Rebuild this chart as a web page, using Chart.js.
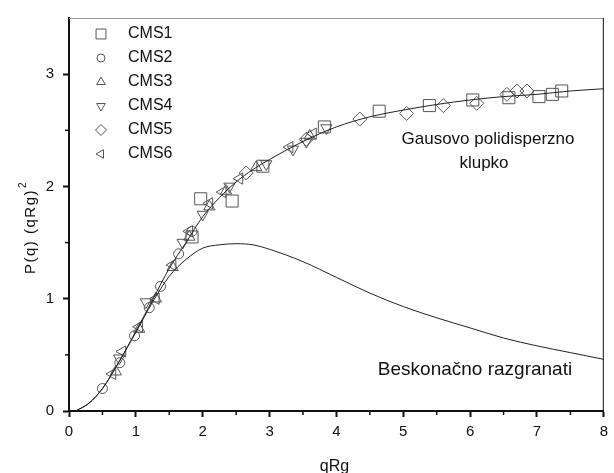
<!DOCTYPE html>
<html>
<head>
<meta charset="utf-8">
<script src="https://cdn.jsdelivr.net/npm/chart.js@4.4.1/dist/chart.umd.min.js"></script>
<style>
  html, body { margin: 0; padding: 0; background: #fff; }
  #wrap { width: 614px; height: 473px; }
</style>
</head>
<body>
<div id="wrap"><canvas id="chart" width="614" height="473"></canvas></div>
<script>
// model curves
const curveX      = [0.1, 0.3, 0.5, 0.75, 1, 1.25, 1.5, 1.75, 2, 2.25, 2.5, 2.75, 3, 3.5, 4, 4.5, 5, 5.5, 6, 6.5, 7, 7.5, 8];
const gaussCurve  = [0, 0.07, 0.2, 0.44, 0.71, 0.99, 1.27, 1.5, 1.73, 1.9, 2.04, 2.15, 2.24, 2.4, 2.53, 2.62, 2.68, 2.73, 2.77, 2.8, 2.82, 2.85, 2.87];
const branchCurve = [0, 0.07, 0.2, 0.44, 0.7, 0.97, 1.2, 1.35, 1.45, 1.48, 1.49, 1.48, 1.44, 1.33, 1.19, 1.05, 0.93, 0.83, 0.74, 0.65, 0.58, 0.52, 0.46];

// measured samples
const cms1X = [1.97, 2.44, 1.84, 2.9, 3.82, 4.64, 5.39, 6.04, 6.58, 7.03, 7.23, 7.37];
const cms1Y = [1.89, 1.87, 1.55, 2.18, 2.53, 2.67, 2.72, 2.77, 2.79, 2.80, 2.82, 2.85];
const cms2X = [0.5, 0.76, 0.98, 1.2, 1.37, 1.64, 1.84];
const cms2Y = [0.2, 0.43, 0.67, 0.92, 1.11, 1.4, 1.6];
const cms3X = [0.7, 1.05, 1.3, 1.55, 1.8, 2.1, 2.35, 2.8, 3.6];
const cms3Y = [0.35, 0.73, 1.0, 1.28, 1.55, 1.82, 1.96, 2.17, 2.45];
const cms4X = [0.75, 1.15, 1.7, 2.0, 2.4, 2.95, 3.35, 3.55, 3.85];
const cms4Y = [0.47, 0.97, 1.5, 1.75, 2.0, 2.2, 2.33, 2.4, 2.52];
const cms5X = [2.65, 3.55, 4.35, 5.05, 5.6, 6.1, 6.55, 6.7, 6.85];
const cms5Y = [2.12, 2.42, 2.6, 2.65, 2.72, 2.74, 2.82, 2.85, 2.85];
const cms6X = [0.65, 0.8, 1.05, 1.3, 1.55, 1.8, 2.1, 2.3, 2.55, 3.3, 3.65];
const cms6Y = [0.33, 0.53, 0.75, 1.0, 1.3, 1.6, 1.85, 1.95, 2.07, 2.35, 2.47];

const xTicks = [0, 1, 2, 3, 4, 5, 6, 7, 8];
const yTicks = [0, 1, 2, 3];

const toPts = (xs, ys) => xs.map((x, i) => ({ x: x, y: ys[i] }));
const FONT = '"Liberation Sans", Arial, sans-serif';

const markerColor = '#555';
const series = [
  { label: 'CMS1', x: cms1X, y: cms1Y, style: 'rect', rot: 0, r: 8.5, lr: 7 },
  { label: 'CMS2', x: cms2X, y: cms2Y, style: 'circle', rot: 0, r: 5, lr: 4 },
  { label: 'CMS3', x: cms3X, y: cms3Y, style: 'triangle', rot: 0, r: 6.5, lr: 5 },
  { label: 'CMS4', x: cms4X, y: cms4Y, style: 'triangle', rot: 180, r: 6.5, lr: 5 },
  { label: 'CMS5', x: cms5X, y: cms5Y, style: 'rectRot', rot: 0, r: 7, lr: 5.5 },
  { label: 'CMS6', x: cms6X, y: cms6Y, style: 'triangle', rot: -90, r: 6.5, lr: 5 }
];

const datasets = [
  {
    type: 'line', label: 'gauss', data: toPts(curveX, gaussCurve),
    borderColor: '#222', borderWidth: 1, pointRadius: 0, cubicInterpolationMode: 'monotone', fill: false
  },
  {
    type: 'line', label: 'branch', data: toPts(curveX, branchCurve),
    borderColor: '#222', borderWidth: 1, pointRadius: 0, cubicInterpolationMode: 'monotone', fill: false
  }
];
series.forEach(s => {
  datasets.push({
    type: 'scatter', label: s.label, data: toPts(s.x, s.y),
    pointStyle: s.style, rotation: s.rot, pointRadius: s.r,
    borderColor: markerColor, borderWidth: 1, backgroundColor: 'rgba(0,0,0,0)'
  });
});

const extras = {
  id: 'extras',
  afterDraw(chart) {
    const ctx = chart.ctx;
    const a = chart.chartArea;
    const xs = chart.scales.x, ys = chart.scales.y;
    ctx.save();
    // frame: grey top, thin right
    ctx.lineWidth = 1;
    ctx.strokeStyle = '#999';
    ctx.beginPath(); ctx.moveTo(a.left, a.top + 0.5); ctx.lineTo(a.right, a.top + 0.5); ctx.stroke();
    ctx.strokeStyle = '#111';
    ctx.beginPath(); ctx.moveTo(a.right - 0.5, a.top); ctx.lineTo(a.right - 0.5, a.bottom); ctx.stroke();
    // minor ticks
    ctx.lineWidth = 1.5;
    for (let v = 0.5; v < 8; v += 1) {
      const px = xs.getPixelForValue(v);
      ctx.beginPath(); ctx.moveTo(px, a.bottom); ctx.lineTo(px, a.bottom + 4); ctx.stroke();
    }
    for (let v = 0.5; v < 3.5; v += 1) {
      const py = ys.getPixelForValue(v);
      ctx.beginPath(); ctx.moveTo(a.left, py); ctx.lineTo(a.left - 4, py); ctx.stroke();
    }
    // legend
    ctx.font = '16px ' + FONT;
    ctx.textBaseline = 'middle';
    ctx.textAlign = 'left';
    series.forEach((s, i) => {
      const y = 34 + i * 24;
      ctx.strokeStyle = markerColor;
      ctx.fillStyle = 'rgba(0,0,0,0)';
      ctx.lineWidth = 1;
      Chart.helpers.drawPoint(ctx, { pointStyle: s.style, rotation: s.rot, radius: s.lr, borderWidth: 1 }, 101, y);
      ctx.fillStyle = '#111';
      ctx.fillText(s.label, 128, y);
    });
    // curve labels
    ctx.font = '17px ' + FONT;
    ctx.textAlign = 'center';
    ctx.fillText('Gausovo polidisperzno', 488, 139);
    ctx.fillText('klupko', 484, 163);
    ctx.font = '19px ' + FONT;
    ctx.fillText('Beskonačno razgranati', 475, 370);
    // axis titles
    ctx.font = '16px ' + FONT;
    ctx.textBaseline = 'alphabetic';
    ctx.fillText('qRg', (a.left + a.right) / 2 - 2, 471);
    ctx.save();
    ctx.translate(35, 228);
    ctx.rotate(-Math.PI / 2);
    ctx.font = '15px ' + FONT;
    ctx.letterSpacing = '1.5px';
    ctx.textAlign = 'left';
    const main = 'P(q) (qRg)';
    const w = ctx.measureText(main).width;
    ctx.fillText(main, -(w + 7) / 2, 0);
    ctx.font = '10px ' + FONT;
    ctx.letterSpacing = '0px';
    ctx.fillText('2', -(w + 7) / 2 + w + 1, -9);
    ctx.restore();
    ctx.restore();
  }
};

new Chart(document.getElementById('chart'), {
  data: { datasets: datasets },
  options: {
    responsive: false,
    animation: false,
    layout: { padding: { top: 16, right: 5, left: 0, bottom: 0 } },
    plugins: { legend: { display: false }, tooltip: { enabled: false } },
    scales: {
      x: {
        type: 'linear', min: 0, max: 8,
        afterFit: s => { s.height = 62; },
        afterBuildTicks: s => { s.ticks = xTicks.map(v => ({ value: v })); },
        grid: { drawOnChartArea: false, drawTicks: true, tickLength: 6, tickColor: '#111', tickWidth: 2 },
        border: { display: true, color: '#111', width: 2 },
        ticks: { color: '#111', padding: 6, font: { family: FONT, size: 15 } }
      },
      y: {
        type: 'linear', min: 0, max: 3.5,
        afterFit: s => { s.width = 69; },
        afterBuildTicks: s => { s.ticks = yTicks.map(v => ({ value: v })); },
        grid: { drawOnChartArea: false, drawTicks: true, tickLength: 6, tickColor: '#111', tickWidth: 2 },
        border: { display: true, color: '#111', width: 2 },
        ticks: { color: '#111', padding: 9, font: { family: FONT, size: 15 } }
      }
    }
  },
  plugins: [extras]
});
</script>
</body>
</html>
